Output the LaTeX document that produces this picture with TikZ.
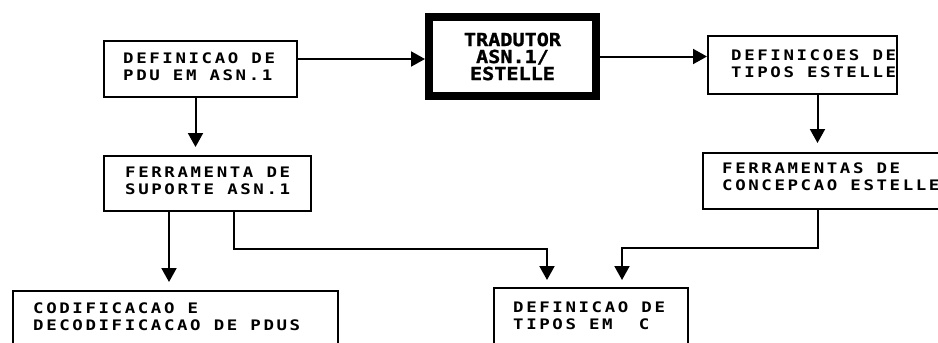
\documentclass[tikz,border=0pt]{standalone}
\usepackage{fontspec}
\usetikzlibrary{arrows.meta,calc}
\newfontfamily\boxfont[LetterSpace=18,FakeStretch=1.2]{DejaVu Sans Mono}
\newfontfamily\trfont[FakeStretch=1.12,FakeBold=1.2]{DejaVu Sans Mono}
\begin{document}
\begin{tikzpicture}[x=1pt,y=-1pt,
  box/.style={draw, line width=2pt, anchor=north west, inner sep=0pt},
  lbl/.style={anchor=north west, inner sep=0pt, align=left,
    font=\boxfont\bfseries\fontsize{14.5}{16.5}\selectfont},
  conn/.style={line width=2pt},
  arr/.style={conn, -{Triangle[length=14pt,width=15pt]}},
]
\useasboundingbox (0,0) rectangle (938,343);
\clip (0,0) rectangle (938,343);
\fill[white] (0,0) rectangle (938,343);

% boxes
\node[box, minimum width=193pt, minimum height=56pt] (A) at (103,40) {};
\node[box, minimum width=207pt, minimum height=55pt] (B) at (103,155) {};
\node[box, minimum width=189pt, minimum height=58pt] (C) at (707,35) {};
\node[box, minimum width=258pt, minimum height=56pt] (D) at (702,152) {};
\node[box, minimum width=325pt, minimum height=56pt] (E) at (12,290) {};
\node[box, minimum width=194pt, minimum height=56pt] (F) at (493,287) {};
\node[draw, line width=8pt, anchor=north west, minimum width=167pt,
  minimum height=79pt, inner sep=0pt, align=center,
  font=\trfont\bfseries\fontsize{18}{17}\selectfont] (T) at (425,13)
  {TRADUTOR\\ASN.1/\\ESTELLE};

% texts
\node[lbl] (At) at ($(A.north west)+(20,13)$) {DEFINICAO DE\\PDU EM ASN.1};
\node[lbl] (Bt) at ($(B.north west)+(22,12)$) {FERRAMENTA DE\\SUPORTE ASN.1};
\node[lbl] (Ct) at ($(C.north west)+(24,15)$) {DEFINICOES DE\\TIPOS ESTELLE};
\node[lbl] (Dt) at ($(D.north west)+(20,11)$) {FERRAMENTAS DE\\CONCEPCAO ESTELLE};
\node[lbl] (Et) at ($(E.north west)+(21,13)$) {CODIFICACAO E\\DECODIFICACAO DE PDUS};
\node[lbl] (Ft) at ($(F.north west)+(20,15)$) {DEFINICAO DE\\TIPOS EM\ \ C};

% connectors
\coordinate (a1) at ([yshift=10pt]A.east);
\draw[arr] (a1) -- (a1 -| T.west);
\draw[arr] (T.east) -- (T.east -| C.west);
\coordinate (a2) at ([xshift=-5pt]A.south);
\draw[arr, shorten >=8pt] (a2) -- (a2 |- B.north);
\coordinate (c2) at ([xshift=15pt]C.south);
\draw[arr, shorten >=9pt] (c2) -- (c2 |- D.north);
\coordinate (b1) at ([xshift=-38.5pt]B.south);
\draw[arr, shorten >=8pt] (b1) -- (b1 |- E.north);
\coordinate (b2) at ([xshift=26.5pt]B.south);
\coordinate (f1) at ([xshift=-44pt]F.north);
\draw[arr, shorten >=7pt] (b2) -- ++(0,37) -| (f1);
\coordinate (d2) at ([xshift=-14pt]D.south);
\coordinate (f2) at ([xshift=31pt]F.north);
\draw[arr, shorten >=7pt] (d2) -- ++(0,38) -| (f2);
\end{tikzpicture}
\end{document}
